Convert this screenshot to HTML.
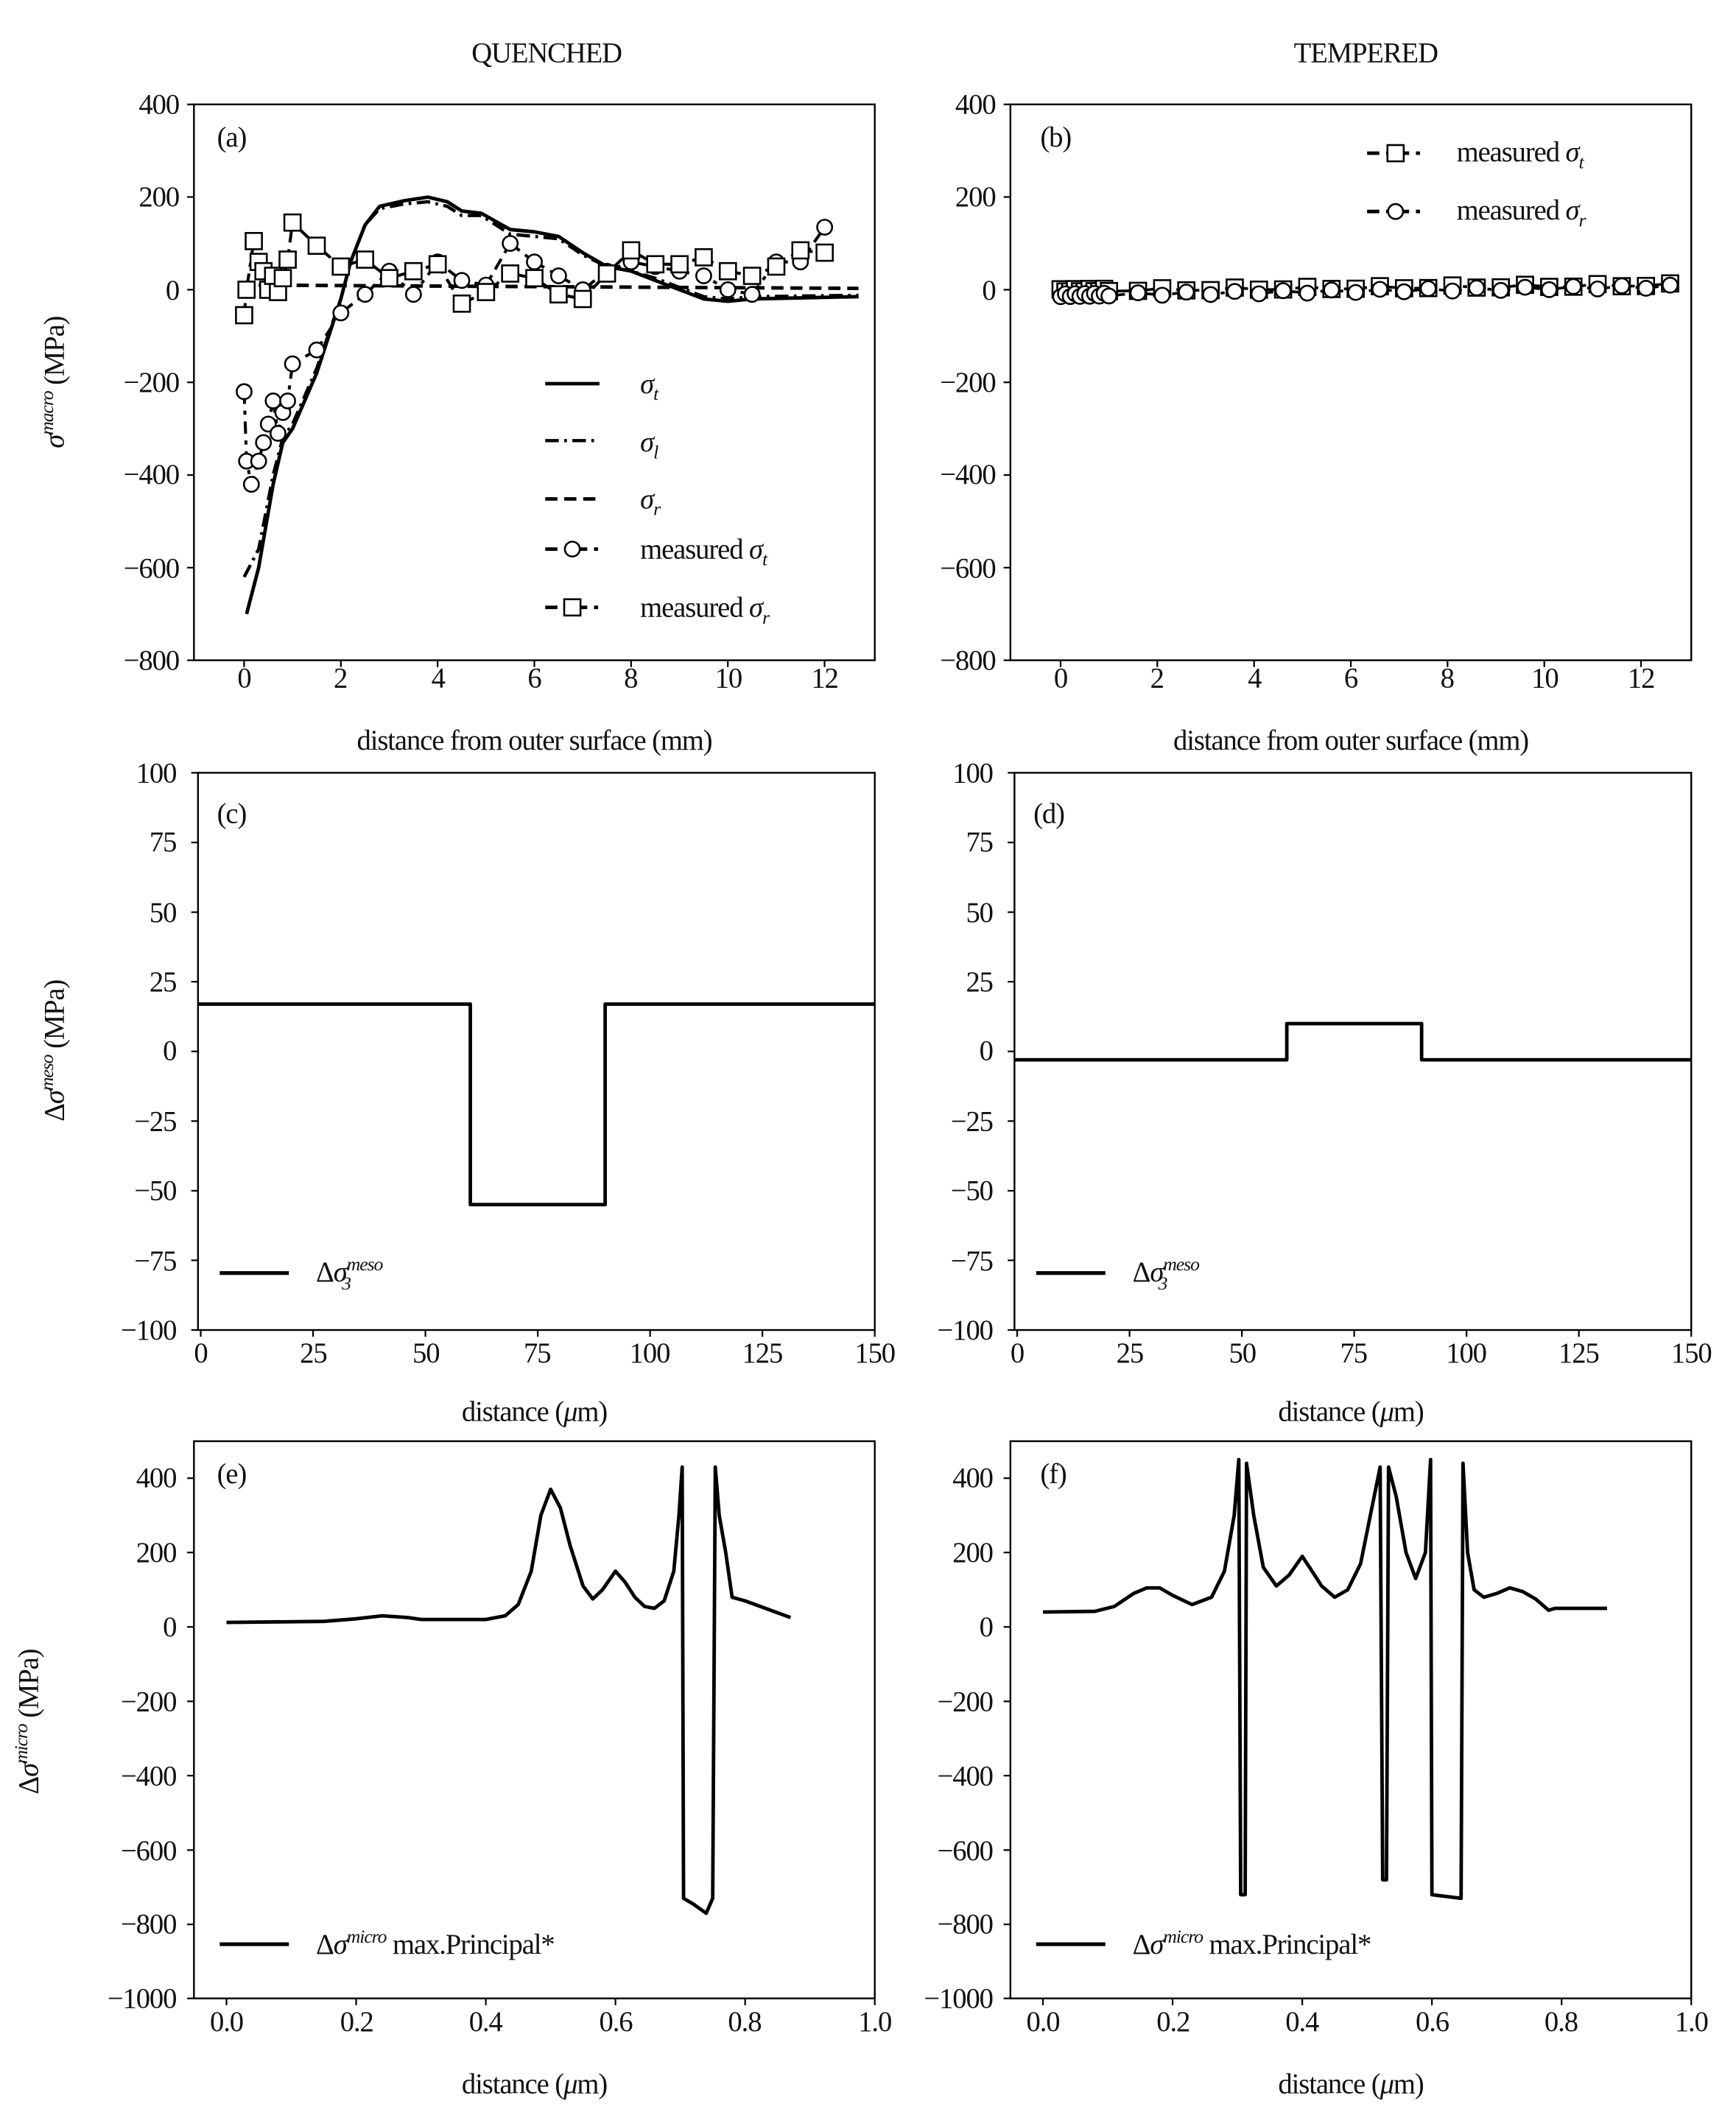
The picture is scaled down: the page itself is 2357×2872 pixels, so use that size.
<!DOCTYPE html>
<html><head><meta charset="utf-8">
<style>
html,body{margin:0;padding:0;background:#fff;}
svg{display:block;}
text{font-family:"Liberation Serif",serif;font-size:21px;fill:#111;letter-spacing:-0.6px;}
.ty{text-anchor:end;}
.tx{text-anchor:middle;}
.it{font-style:italic;}
</style></head>
<body>
<svg id="s" width="2357" height="2872" viewBox="0 0 1280 1560" preserveAspectRatio="none" xmlns="http://www.w3.org/2000/svg">
<rect width="1280" height="1560" fill="#fff"/>
<text x="403" y="46" class="tx">QUENCHED</text>
<text x="1007" y="46" class="tx">TEMPERED</text>

<g>
<text x="132" y="84" class="ty">400</text>
<text x="132" y="152" class="ty">200</text>
<text x="132" y="221" class="ty">0</text>
<text x="132" y="289" class="ty">−200</text>
<text x="132" y="357" class="ty">−400</text>
<text x="132" y="426" class="ty">−600</text>
<text x="132" y="494" class="ty">−800</text>
<text x="180" y="507" class="tx">0</text>
<text x="251" y="507" class="tx">2</text>
<text x="323" y="507" class="tx">4</text>
<text x="394" y="507" class="tx">6</text>
<text x="465" y="507" class="tx">8</text>
<text x="537" y="507" class="tx">10</text>
<text x="608" y="507" class="tx">12</text>
<text x="394" y="553" class="tx">distance from outer surface (mm)</text>
<text x="160" y="108">(a)</text>
<text transform="translate(47,282) rotate(-90)" class="tx"><tspan class="it">σ</tspan><tspan class="it" font-size="14" dy="-8">macro</tspan><tspan dy="8"> (MPa)</tspan></text>
<text x="472" y="290" class="it">σ<tspan font-size="14" dy="5">t</tspan></text>
<text x="472" y="333" class="it">σ<tspan font-size="14" dy="5">l</tspan></text>
<text x="472" y="375" class="it">σ<tspan font-size="14" dy="5">r</tspan></text>
<text x="472" y="412">measured <tspan class="it">σ</tspan><tspan class="it" font-size="14" dy="5">t</tspan></text>
<text x="472" y="455">measured <tspan class="it">σ</tspan><tspan class="it" font-size="14" dy="5">r</tspan></text>
</g>
<g>
<text x="734" y="84" class="ty">400</text>
<text x="734" y="152" class="ty">200</text>
<text x="734" y="221" class="ty">0</text>
<text x="734" y="289" class="ty">−200</text>
<text x="734" y="357" class="ty">−400</text>
<text x="734" y="426" class="ty">−600</text>
<text x="734" y="494" class="ty">−800</text>
<text x="782" y="507" class="tx">0</text>
<text x="853" y="507" class="tx">2</text>
<text x="925" y="507" class="tx">4</text>
<text x="996" y="507" class="tx">6</text>
<text x="1067" y="507" class="tx">8</text>
<text x="1139" y="507" class="tx">10</text>
<text x="1210" y="507" class="tx">12</text>
<text x="996" y="553" class="tx">distance from outer surface (mm)</text>
<text x="767" y="108">(b)</text>
<text x="1074" y="119">measured <tspan class="it">σ</tspan><tspan class="it" font-size="14" dy="5">t</tspan></text>
<text x="1074" y="162">measured <tspan class="it">σ</tspan><tspan class="it" font-size="14" dy="5">r</tspan></text>
</g>
<g>
<text x="130" y="577" class="ty">100</text>
<text x="130" y="628" class="ty">75</text>
<text x="130" y="680" class="ty">50</text>
<text x="130" y="731" class="ty">25</text>
<text x="130" y="782" class="ty">0</text>
<text x="130" y="834" class="ty">−25</text>
<text x="130" y="885" class="ty">−50</text>
<text x="130" y="937" class="ty">−75</text>
<text x="130" y="988" class="ty">−100</text>
<text x="148" y="1005" class="tx">0</text>
<text x="231" y="1005" class="tx">25</text>
<text x="314" y="1005" class="tx">50</text>
<text x="396" y="1005" class="tx">75</text>
<text x="479" y="1005" class="tx">100</text>
<text x="562" y="1005" class="tx">125</text>
<text x="645" y="1005" class="tx">150</text>
<text x="394" y="1048" class="tx">distance (<tspan class="it">μ</tspan>m)</text>
<text x="160" y="607">(c)</text>
<text transform="translate(47,775) rotate(-90)" class="tx">Δ<tspan class="it">σ</tspan><tspan class="it" font-size="14" dy="-8">meso</tspan><tspan dy="8"> (MPa)</tspan></text>
<text x="233" y="945">Δ<tspan class="it">σ</tspan><tspan class="it" font-size="14" dy="-8">meso</tspan><tspan class="it" font-size="14" dx="-30" dy="14">3</tspan></text>
</g>
<g>
<text x="732" y="577" class="ty">100</text>
<text x="732" y="628" class="ty">75</text>
<text x="732" y="680" class="ty">50</text>
<text x="732" y="731" class="ty">25</text>
<text x="732" y="782" class="ty">0</text>
<text x="732" y="834" class="ty">−25</text>
<text x="732" y="885" class="ty">−50</text>
<text x="732" y="937" class="ty">−75</text>
<text x="732" y="988" class="ty">−100</text>
<text x="750" y="1005" class="tx">0</text>
<text x="833" y="1005" class="tx">25</text>
<text x="916" y="1005" class="tx">50</text>
<text x="998" y="1005" class="tx">75</text>
<text x="1081" y="1005" class="tx">100</text>
<text x="1164" y="1005" class="tx">125</text>
<text x="1247" y="1005" class="tx">150</text>
<text x="996" y="1048" class="tx">distance (<tspan class="it">μ</tspan>m)</text>
<text x="762" y="607">(d)</text>
<text x="835" y="945">Δ<tspan class="it">σ</tspan><tspan class="it" font-size="14" dy="-8">meso</tspan><tspan class="it" font-size="14" dx="-30" dy="14">3</tspan></text>
</g>
<g>
<text x="130" y="1097" class="ty">400</text>
<text x="130" y="1152" class="ty">200</text>
<text x="130" y="1207" class="ty">0</text>
<text x="130" y="1262" class="ty">−200</text>
<text x="130" y="1317" class="ty">−400</text>
<text x="130" y="1372" class="ty">−600</text>
<text x="130" y="1426" class="ty">−800</text>
<text x="130" y="1481" class="ty">−1000</text>
<text x="167" y="1498" class="tx">0.0</text>
<text x="263" y="1498" class="tx">0.2</text>
<text x="358" y="1498" class="tx">0.4</text>
<text x="454" y="1498" class="tx">0.6</text>
<text x="549" y="1498" class="tx">0.8</text>
<text x="645" y="1498" class="tx">1.0</text>
<text x="394" y="1544" class="tx">distance (<tspan class="it">μ</tspan>m)</text>
<text x="160" y="1094">(e)</text>
<text transform="translate(28,1270) rotate(-90)" class="tx">Δ<tspan class="it">σ</tspan><tspan class="it" font-size="14" dy="-8">micro</tspan><tspan dy="8"> (MPa)</tspan></text>
<text x="233" y="1441">Δ<tspan class="it">σ</tspan><tspan class="it" font-size="14" dy="-8">micro</tspan><tspan dy="8"> max.Principal*</tspan></text>
</g>
<g>
<text x="732" y="1097" class="ty">400</text>
<text x="732" y="1152" class="ty">200</text>
<text x="732" y="1207" class="ty">0</text>
<text x="732" y="1262" class="ty">−200</text>
<text x="732" y="1317" class="ty">−400</text>
<text x="732" y="1372" class="ty">−600</text>
<text x="732" y="1426" class="ty">−800</text>
<text x="732" y="1481" class="ty">−1000</text>
<text x="769" y="1498" class="tx">0.0</text>
<text x="865" y="1498" class="tx">0.2</text>
<text x="960" y="1498" class="tx">0.4</text>
<text x="1056" y="1498" class="tx">0.6</text>
<text x="1151" y="1498" class="tx">0.8</text>
<text x="1247" y="1498" class="tx">1.0</text>
<text x="996" y="1544" class="tx">distance (<tspan class="it">μ</tspan>m)</text>
<text x="767" y="1094">(f)</text>
<text x="835" y="1441">Δ<tspan class="it">σ</tspan><tspan class="it" font-size="14" dy="-8">micro</tspan><tspan dy="8"> max.Principal*</tspan></text>
</g>
<g id="g" fill="none" stroke="#000"></g>
</svg>
<script>
const g=document.getElementById('g');const NS='http://www.w3.org/2000/svg';
function el(t,a){const e=document.createElementNS(NS,t);for(const k in a)e.setAttribute(k,a[k]);g.appendChild(e);return e;}
function line(x1,y1,x2,y2,w,da){el('line',{x1,y1,x2,y2,'stroke-width':w||1.2,'stroke-dasharray':da||'none'});}
function poly(pts,w,da){el('polyline',{points:pts.map(p=>p[0].toFixed(1)+','+p[1].toFixed(1)).join(' '),'stroke-width':w,'stroke-dasharray':da||'none','stroke-linejoin':'round'});}
function box(x1,y1,x2,y2){el('rect',{x:x1,y:y1,width:x2-x1,height:y2-y1,'stroke-width':1.3});}
function circ(x,y){el('circle',{cx:x,cy:y,r:5.5,fill:'#fff','stroke-width':1.4});}
function sq(x,y){el('rect',{x:x-6,y:y-6,width:12,height:12,fill:'#fff','stroke-width':1.4});}
[[143,645],[745,1247]].forEach(([l,r],i)=>{
 box(l,77,r,487);
 [77,145.3,213.7,282,350.4,418.7,487].forEach(y=>line(l-5,y,l,y));
 for(let k=0;k<7;k++){const x=(i?782:180)+k*71.33;line(x,487,x,492);}
});
[[146,645],[748,1247]].forEach(([l,r],i)=>{
 box(l,570,r,981);
 [570,621.4,672.8,724.1,775.5,826.9,878.3,929.6,981].forEach(y=>line(l-5,y,l,y));
 for(let k=0;k<7;k++){const x=(i?750:148)+k*82.83;line(x,981,x,986);}
});
[[143,645],[745,1247]].forEach(([l,r],i)=>{
 box(l,1063,r,1474);
 [1090.3,1145.1,1200,1254.9,1309.7,1364.6,1419.4,1474].forEach(y=>line(l-5,y,l,y));
 for(let k=0;k<6;k++){const x=(i?769:167)+k*95.6;line(x,1474,x,1479);}
});
const AX=x=>180+35.67*x, AY=y=>213.7-0.3417*y;
const st=[[0.05,-700],[0.3,-600],[0.6,-420],[0.8,-330],[1,-300],[1.5,-180],[2,-20],[2.2,60],[2.5,140],[2.8,180],[3.3,192],[3.8,200],[4.2,190],[4.5,170],[4.9,165],[5.5,130],[6,125],[6.5,115],[7,80],[7.5,50],[8,40],[8.5,20],[9.5,-20],[10,-25],[10.5,-20],[12.7,-15]];
poly(st.map(p=>[AX(p[0]),AY(p[1])]),2.6);
const sl=[[0,-620],[0.3,-560],[0.6,-400],[0.8,-320],[1,-290],[1.5,-170],[2,-20],[2.2,60],[2.5,140],[2.8,175],[3.3,185],[3.8,190],[4.2,180],[4.5,160],[4.9,160],[5.5,120],[6,115],[6.5,110],[7,75],[7.5,50],[8,40],[8.5,25],[9.5,-15],[10,-20],[10.5,-15],[12.7,-12]];
poly(sl.map(p=>[AX(p[0]),AY(p[1])]),2.4,'10,4,2,4');
poly([[AX(0.3),AY(10)],[AX(12.7),AY(3)]],2.6,'9,5');
const mt=[[0,-220],[0.05,-370],[0.15,-420],[0.3,-370],[0.4,-330],[0.5,-290],[0.6,-240],[0.7,-310],[0.8,-265],[0.9,-240],[1,-160],[1.5,-130],[2,-50],[2.5,-10],[3,40],[3.5,-10],[4,60],[4.5,20],[5,10],[5.5,100],[6,60],[6.5,30],[7,0],[7.5,40],[8,60],[8.5,50],[9,40],[9.5,30],[10,0],[10.5,-10],[11,60],[11.5,60],[12,135]];
const mr=[[0,-55],[0.05,0],[0.2,105],[0.3,60],[0.4,40],[0.5,0],[0.6,30],[0.7,-5],[0.8,25],[0.9,65],[1,145],[1.5,95],[2,50],[2.5,65],[3,25],[3.5,40],[4,55],[4.5,-30],[5,-5],[5.5,35],[6,25],[6.5,-10],[7,-20],[7.5,35],[8,85],[8.5,55],[9,55],[9.5,70],[10,40],[10.5,30],[11,50],[11.5,85],[12,80]];
poly(mt.map(p=>[AX(p[0]),AY(p[1])]),2.2,'9,5,3,5');
poly(mr.map(p=>[AX(p[0]),AY(p[1])]),2.2,'9,5,3,5');
mt.forEach(p=>circ(AX(p[0]),AY(p[1])));
mr.forEach(p=>sq(AX(p[0]),AY(p[1])));
const LX=402;
line(LX,283,LX+40,283,2.6);
line(LX,325,LX+40,325,2.4,'10,4,2,4');
line(LX,368,LX+40,368,2.6,'9,5');
line(LX,405,LX+40,405,2.6,'9,5,3,5');circ(LX+20,405);
line(LX,448,LX+40,448,2.6,'9,5,3,5');sq(LX+20,448);
const BX=x=>782+35.67*x;
const bx=[0,0.1,0.2,0.3,0.4,0.5,0.6,0.7,0.8,0.9,1];for(let x=1.6;x<=12.7;x+=0.5)bx.push(x);
const bt=bx.map((x,i)=>[x,-12+x*1.5+(i%2?3:-3)]);
const br=bx.map((x,i)=>[x,-4+x*1.0+(i%3?0:5)]);
poly(bt.map(p=>[BX(p[0]),AY(p[1])]),2,'9,5,3,5');
poly(br.map(p=>[BX(p[0]),AY(p[1])]),2,'9,5,3,5');
br.forEach(p=>sq(BX(p[0]),AY(p[1])));
bt.forEach(p=>circ(BX(p[0]),AY(p[1])));
line(1008,113,1050,113,2.6,'9,5,3,5');sq(1029,113);
line(1008,156,1050,156,2.6,'9,5,3,5');circ(1029,156);
const CY=y=>775.5-2.055*y;
const CX=x=>148+3.313*x, DX=x=>750+3.313*x;
poly([[146,CY(17)],[CX(60),CY(17)],[CX(60),CY(-55)],[CX(90),CY(-55)],[CX(90),CY(17)],[645,CY(17)]],2.6);
poly([[748,CY(-3)],[DX(60),CY(-3)],[DX(60),CY(10)],[DX(90),CY(10)],[DX(90),CY(-3)],[1247,CY(-3)]],2.6);
line(162,939,213,939,2.8);line(764,939,815,939,2.8);
const EY=y=>1200-0.2743*y, EX=x=>167+478*x, FX=x=>769+478*x;
const e=[[0,12],[0.15,15],[0.2,22],[0.24,30],[0.28,25],[0.3,20],[0.4,20],[0.43,30],[0.45,60],[0.47,150],[0.485,300],[0.5,370],[0.515,320],[0.53,220],[0.55,110],[0.565,75],[0.58,100],[0.6,150],[0.615,120],[0.63,80],[0.645,55],[0.66,50],[0.675,70],[0.69,150],[0.698,300],[0.703,430],[0.705,-730],[0.72,-745],[0.74,-770],[0.75,-730],[0.754,430],[0.76,300],[0.77,200],[0.78,80],[0.8,70],[0.87,25]];
poly(e.map(p=>[EX(p[0]),EY(p[1])]),2.6);
const f=[[0,40],[0.08,42],[0.11,55],[0.14,90],[0.16,105],[0.18,105],[0.2,85],[0.23,60],[0.26,80],[0.28,150],[0.295,300],[0.302,450],[0.305,-720],[0.312,-720],[0.314,440],[0.325,300],[0.34,160],[0.36,110],[0.38,140],[0.4,190],[0.415,150],[0.43,110],[0.45,80],[0.47,100],[0.49,170],[0.505,300],[0.52,430],[0.524,-680],[0.53,-680],[0.533,430],[0.545,350],[0.56,200],[0.575,130],[0.59,200],[0.598,450],[0.6,-720],[0.645,-730],[0.648,440],[0.655,200],[0.665,100],[0.68,80],[0.7,90],[0.72,105],[0.74,95],[0.76,75],[0.78,45],[0.79,50],[0.87,50]];
poly(f.map(p=>[FX(p[0]),EY(p[1])]),2.6);
line(162,1434,213,1434,2.8);line(764,1434,815,1434,2.8);
</script>
</body></html>
